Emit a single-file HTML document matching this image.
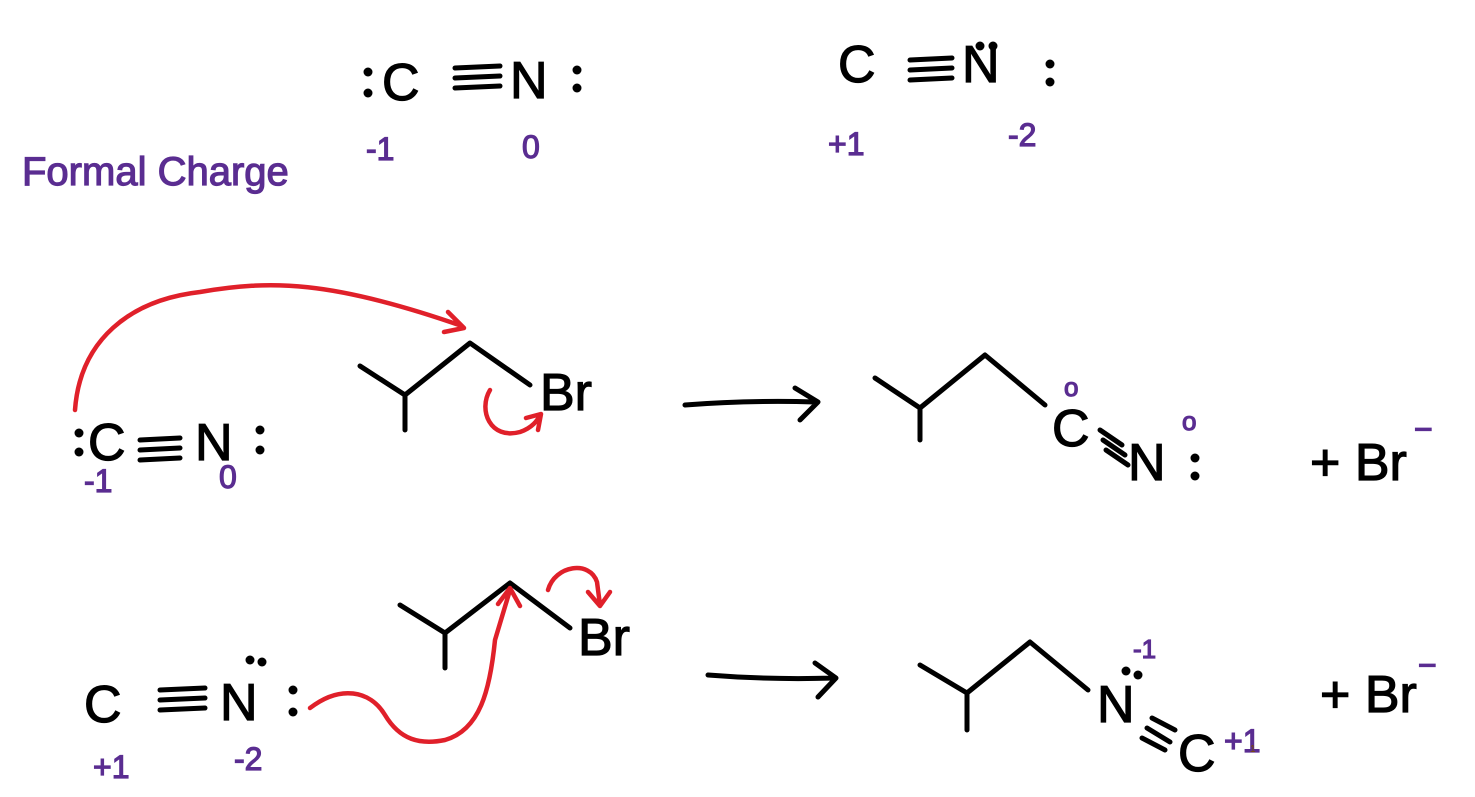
<!DOCTYPE html>
<html><head><style>
html,body{margin:0;padding:0;background:#fff;}
svg{display:block}
text{font-family:"Liberation Sans",sans-serif;}
.k{fill:#000;font-size:52px;stroke:#000;stroke-width:1.2px;}
.p{fill:#5a2d91;font-size:32px;stroke:#5a2d91;stroke-width:1.2px;}
</style></head><body>
<svg width="1475" height="797" viewBox="0 0 1475 797" xmlns="http://www.w3.org/2000/svg">
<g fill="none" stroke-linecap="round" stroke-linejoin="round">
<g stroke="#000" stroke-width="5">
<path d="M455 68 L500 66 M455 78 L500 76 M455 88 L500 86"/>
<path d="M910 60 L952 58 M910 70 L952 68 M910 80 L952 78"/>
<path d="M140 440 L180 438 M140 450 L180 448 M140 460 L180 458"/>
<path d="M160 690 L205 688 M160 700 L205 698 M160 710 L205 708"/>
<path d="M360 366 L405 395 L470 343 L530 385 M405 395 L405 430"/>
<path d="M875 378 L920 408 L985 355 L1045 405 M920 408 L920 440"/>
<path d="M1100 430 L1122 445 M1103 440 L1125 455 M1106 450 L1128 465"/>
<path d="M400 605 L445 633 L510 583 L570 628 M445 633 L445 668"/>
<path d="M920 665 L967 693 L1030 642 L1088 690 M967 693 L967 730"/>
<path d="M1152 718 L1175 730 M1147 728 L1170 742 M1142 738 L1165 750"/>
<path d="M685 405 Q750 400 815 402 M795 388 L818 402 L800 420"/>
<path d="M708 675 Q770 680 835 678 M815 663 L836 678 L818 697"/>
</g>
<g stroke="#e0202a" stroke-width="4.5">
<path d="M75 410 C80 340 130 300 200 292 C270 280 330 280 462 326 M448 312 L464 328 L444 332"/>
<path d="M490 390 C478 410 490 440 520 432 C532 428 538 420 540 415 M526 418 L541 414 L538 430"/>
<path d="M310 708 C340 685 370 690 385 715 C400 740 420 745 445 740 C480 730 490 690 495 640 L510 590 M498 604 L510 588 L520 606"/>
<path d="M548 590 C555 565 590 560 597 582 L600 605 M588 592 L600 606 L610 592"/>
</g>
<g fill="#000">
<circle cx="368" cy="72" r="4.5"/><circle cx="368" cy="93" r="4.5"/>
<circle cx="577" cy="70" r="4.5"/><circle cx="577" cy="88" r="4.5"/>
<circle cx="1050" cy="64" r="4.5"/><circle cx="1050" cy="82" r="4.5"/>
<circle cx="980" cy="46" r="4.5"/><circle cx="993" cy="46" r="4.5"/>
<circle cx="79" cy="433" r="4.5"/><circle cx="79" cy="452" r="4.5"/>
<circle cx="260" cy="430" r="4.5"/><circle cx="260" cy="450" r="4.5"/>
<circle cx="1195" cy="458" r="4.5"/><circle cx="1195" cy="476" r="4.5"/>
<circle cx="293" cy="690" r="4.5"/><circle cx="293" cy="712" r="4.5"/>
<circle cx="250" cy="660" r="4.5"/><circle cx="262" cy="662" r="4.5"/>
<circle cx="1126" cy="671" r="4.5"/><circle cx="1138" cy="675" r="4.5"/>
</g>
</g>
<text class="k" x="382" y="100">C</text>
<text class="k" x="510" y="98">N</text>
<text class="k" x="838" y="82">C</text>
<text class="k" x="962" y="82">N</text>
<text class="k" x="88" y="460">C</text>
<text class="k" x="195" y="460">N</text>
<text class="k" x="540" y="410">Br</text>
<text class="k" x="1052" y="446">C</text>
<text class="k" x="1128" y="480">N</text>
<text class="k" x="1310" y="480">+ Br</text>
<text class="k" x="84" y="722">C</text>
<text class="k" x="220" y="720">N</text>
<text class="k" x="578" y="655">Br</text>
<text class="k" x="1097" y="722">N</text>
<text class="k" x="1178" y="771">C</text>
<text class="k" x="1320" y="712">+ Br</text>
<text class="p" x="22" y="185" style="font-size:40px">Formal Charge</text>
<text class="p" x="366" y="160">-1</text>
<text class="p" x="522" y="158">0</text>
<text class="p" x="828" y="155">+1</text>
<text class="p" x="1008" y="146">-2</text>
<text class="p" x="84" y="492">-1</text>
<text class="p" x="219" y="488">0</text>
<text class="p" x="1064" y="396" style="font-size:26px">o</text>
<text class="p" x="1182" y="430" style="font-size:26px">o</text>
<text class="p" x="1414" y="440">−</text>
<text class="p" x="93" y="778">+1</text>
<text class="p" x="234" y="770">-2</text>
<text class="p" x="1133" y="658" style="font-size:26px">-1</text>
<text class="p" x="1224" y="752">+1</text>
<text class="p" x="1418" y="676">−</text>
<text x="1250" y="752" style="font-size:10px;fill:#7a4a00">1</text>
</svg>
</body></html>
